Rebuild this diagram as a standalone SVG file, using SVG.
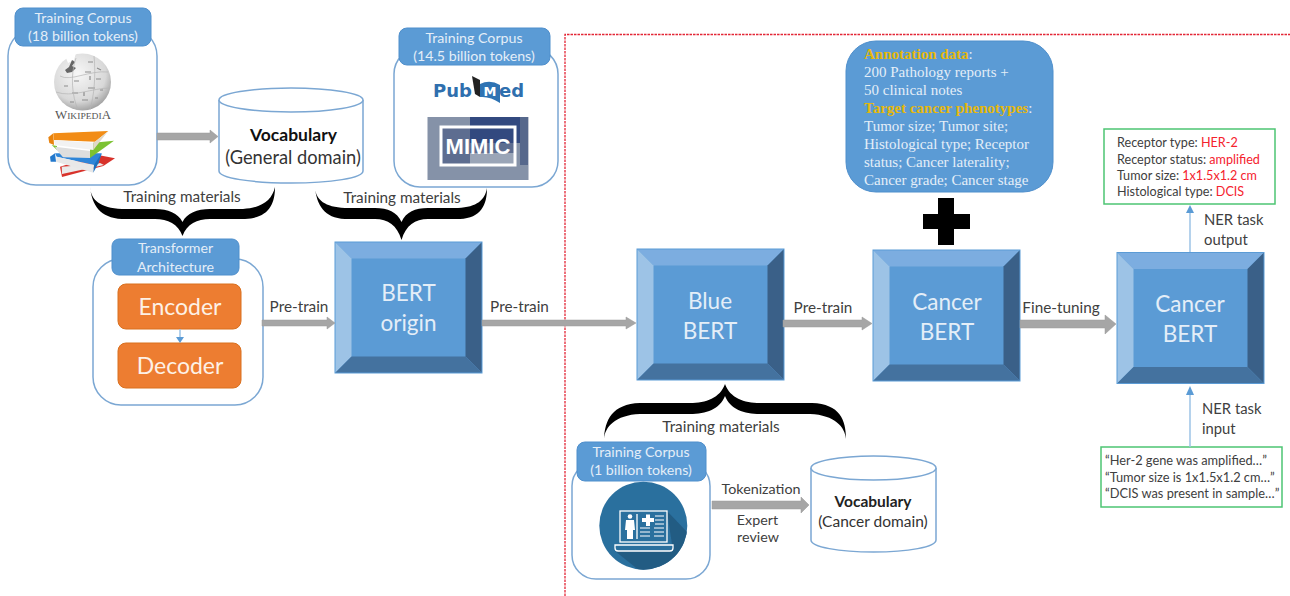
<svg xmlns="http://www.w3.org/2000/svg" width="1290" height="596" viewBox="0 0 1290 596">
<style>
text{font-family:Lato,"Open Sans",sans-serif;fill:#404040}
.m{text-anchor:middle}
.card{fill:#fff;stroke:#7ba7d3;stroke-width:1.5}
.head{fill:#5b9bd5;stroke:#4f8fcc;stroke-width:1}
.ht{font-size:14.200px;fill:#e4eef8;text-anchor:middle}
.orange{fill:#ed7d31;stroke:#d9701f;stroke-width:1}
.ot{font-size:23px;fill:#fdf1e6;text-anchor:middle}
.bt{font-size:22.500px;fill:#e4eef8;text-anchor:middle}
.lab{font-size:15.300px;fill:#404040;text-anchor:middle}
.sm{font-size:14.300px}
.arrow{fill:#a6a6a6;stroke:#999;stroke-width:.5}
.thin{stroke:#9dc3e6;stroke-width:1.5;fill:none}
.tip{fill:#5b9bd5}
.brace{fill:#000}
.cyl{fill:#fff;stroke:#7ba7d3;stroke-width:1.5}
.green{fill:#fff;stroke:#4dc573;stroke-width:1.5}
.gt{font-size:12.600px;fill:#404040}
.st{font-family:"Liberation Serif",serif;font-size:15px;fill:#e4eef8}
.gold{font-weight:bold;fill:#e6b80c}
.w{stroke:#fff;stroke-width:1.3;fill:none}
.pm{font-family:"DejaVu Sans",sans-serif;font-weight:bold;font-size:18px;fill:#2f6fae}
</style>
<defs>
<g id="bevel">
<rect width="147" height="131" fill="#5b9bd5"/>
<polygon points="0,0 147,0 130.500,16.500 16.500,16.500" fill="#7cade0"/>
<polygon points="0,0 16.500,16.500 16.500,114.500 0,131" fill="#9dc3e6"/>
<polygon points="147,0 130.500,16.500 130.500,114.500 147,131" fill="#3a6088"/>
<polygon points="0,131 16.500,114.500 130.500,114.500 147,131" fill="#44729f"/>
<rect width="147" height="131" fill="none" stroke="#5b9bd5"/>
</g>
<radialGradient id="globe" cx=".42" cy=".35" r=".75"><stop offset="0" stop-color="#f7f7f7"/><stop offset=".65" stop-color="#d8d8d8"/><stop offset="1" stop-color="#8a8a8a"/></radialGradient>
<clipPath id="cc"><circle cx="643.300" cy="525.700" r="44"/></clipPath>
<filter id="soft" x="-5%" y="-5%" width="110%" height="110%"><feGaussianBlur stdDeviation=".5"/></filter>
</defs>

<path d="M565,596V34.500H1290" fill="none" stroke="#e32636" stroke-width="1.300" stroke-dasharray="2.500 1"/>

<g id="corpus-general">
<rect class="card" x="8" y="28" width="149" height="157" rx="28"/>
<rect class="head" x="15" y="8" width="136" height="38" rx="8"/>
<text class="ht"><tspan x="83" y="23">Training Corpus</tspan><tspan x="83" y="41">(18 billion tokens)</tspan></text>
<g filter="url(#soft)">
<circle cx="82.500" cy="82" r="28.500" fill="url(#globe)"/>
<path d="M66,58 L76,53 74,60 68,63Z" fill="#fff"/>
<path d="M72,60 L75,62 72,66 76,68 72,72 67,73 65,70 69,67Z" fill="#666"/>
<path d="M88,62h5M97,68l4,2M85,72h6M96,79h5M64,86h4M74,81h5M88,88h7M72,93h6M100,90h3M82,100h6M95,98h3M70,102h4M90,76v4M84,92v4" stroke="#8c8c8c" stroke-width="1.200" fill="none"/>
<path d="M60,76 C70,82 90,70 108,72M56,92 C72,98 92,88 110,88M76,58 C70,75 72,96 78,110M94,56 C96,75 94,96 90,110" stroke="#b4b4b4" stroke-width=".7" fill="none"/>
<polygon points="98,155 115,158.300 103.300,166 62,177 60,166.700" fill="#d8322c"/>
<polygon points="61.700,166.700 96.700,164 100,163 104,165 62,174" fill="#eaeaea"/>
<polygon points="50,156.700 55,153.300 56,161.700 50.700,161.700" fill="#2478cc"/>
<polygon points="55,153.300 101.700,153.300 98.300,163.300 94,165 56.700,156.700" fill="#2f85d8"/>
<polygon points="56.700,156.700 94,165 93.300,172.700 56,161.700" fill="#e8e8e8"/>
<polygon points="101.700,153.300 94,165 93.300,172.700 98.300,163.300" fill="#1f6fbd"/>
<polygon points="51.700,145 57,146 57,150" fill="#7cc232"/>
<polygon points="55,146.700 90,151 90,158 63,157.300 56.700,150" fill="#dedede"/>
<polygon points="93.300,142.700 114,140.700 90,158 90,150" fill="#7cc232"/>
<polygon points="48.300,137.300 53.300,133.300 54,145 49.300,143" fill="#e8830f"/>
<polygon points="53.300,133.300 108.300,131 95,141.700 54,140" fill="#f28c12"/>
<polygon points="54,140 93.300,142.700 93.300,150 55,145" fill="#f2f2f2"/>
<polygon points="108.300,131 95,141.700 93.300,142.700 93.300,150 98,144" fill="#e0d8c8"/>
</g>
<text x="55" y="119" textLength="56" lengthAdjust="spacingAndGlyphs" style="font-family:'Liberation Serif',serif;fill:#555"><tspan font-size="11.500">W</tspan><tspan font-size="8.500">IKIPEDI</tspan><tspan font-size="11.500">A</tspan></text>
</g>

<g id="vocab-general">
<path class="cyl" d="M219,100V171C219,178 251,183 291,183S363,178 363,171V100"/>
<ellipse class="cyl" cx="291" cy="100" rx="72" ry="12"/>
<text class="m" x="293.500" y="141" font-size="17.500" font-weight="bold" style="fill:#111">Vocabulary</text>
<text class="m" x="293" y="164" font-size="18.300" style="fill:#333">(General domain)</text>
</g>

<g id="corpus-biomedical">
<rect class="card" x="394" y="48" width="164" height="139" rx="26"/>
<rect class="head" x="399" y="28" width="151" height="37" rx="8"/>
<text class="ht"><tspan x="474" y="43">Training Corpus</tspan><tspan x="474" y="61">(14.5 billion tokens)</tspan></text>
<g filter="url(#soft)">
<rect x="427.500" y="117" width="101" height="63" fill="#8592a8"/>
<rect x="470" y="117" width="50" height="26" fill="#30497f"/>
<rect x="441" y="127" width="74" height="38" fill="#5d6d90"/>
<rect x="470" y="127" width="45" height="16" fill="#30497f"/>
<rect x="520" y="117" width="8" height="48" fill="#56678c"/>
<rect x="470" y="153" width="45" height="12" fill="#9aa5b7"/>
<rect x="441" y="127" width="74" height="38" fill="none" stroke="#fff" stroke-width="3"/>
<path d="M472,76 L480,80 480,97 475,94Z" fill="#222"/>
<path d="M480,84 Q490,79 500,85 V103 Q490,96 480,97Z" fill="#2f73b3"/>
</g>
<text class="pm" x="433" y="97">Pub</text>
<text class="m" x="490" y="96" font-size="13" font-weight="bold" style="fill:#fff;font-family:'DejaVu Sans',sans-serif">M</text>
<text class="pm" x="499" y="97">ed</text>
<text class="m" x="478" y="154" font-size="22" font-weight="bold" style="fill:#fff;font-family:'Liberation Sans',sans-serif">MIMIC</text>
</g>

<g id="transformer">
<rect class="card" x="93" y="259" width="170" height="146" rx="28"/>
<rect class="head" x="112" y="239" width="127" height="36" rx="7"/>
<text class="ht"><tspan x="175.500" y="253">Transformer</tspan><tspan x="175.500" y="272">Architecture</tspan></text>
<rect class="orange" x="118" y="284" width="123" height="45" rx="8"/>
<text class="ot" x="180" y="315">Encoder</text>
<rect class="orange" x="118" y="343" width="123" height="45" rx="8"/>
<text class="ot" x="180" y="374">Decoder</text>
<path class="thin" d="M180,329V338"/><polygon class="tip" points="176,337 184,337 180,343"/>
</g>

<g id="bert-origin"><use href="#bevel" x="335" y="242"/><text class="bt"><tspan x="408.500" y="301">BERT</tspan><tspan x="408.500" y="331">origin</tspan></text></g>
<g id="blue-bert"><use href="#bevel" x="637" y="249"/><text class="bt"><tspan x="710" y="309">Blue</tspan><tspan x="710" y="339">BERT</tspan></text></g>
<g id="cancer-bert-1"><use href="#bevel" x="873" y="250"/><text class="bt"><tspan x="947" y="310">Cancer</tspan><tspan x="947" y="340">BERT</tspan></text></g>
<g id="cancer-bert-2"><use href="#bevel" x="1117" y="252.500"/><text class="bt"><tspan x="1190" y="312">Cancer</tspan><tspan x="1190" y="342">BERT</tspan></text></g>

<g id="annotation">
<rect x="846" y="41" width="207" height="151" rx="30" fill="#5b9bd5" stroke="#4f8fcc"/>
<text class="st"><tspan x="864" y="58.500" class="gold">Annotation data</tspan><tspan>:</tspan><tspan x="864" y="76.500">200 Pathology reports +</tspan><tspan x="864" y="94.500">50 clinical notes</tspan><tspan x="864" y="112.500" class="gold">Target cancer phenotypes</tspan><tspan>:</tspan><tspan x="864" y="130.500">Tumor size; Tumor site;</tspan><tspan x="864" y="148.500">Histological type; Receptor</tspan><tspan x="864" y="166.500">status; Cancer laterality;</tspan><tspan x="864" y="184.500">Cancer grade; Cancer stage</tspan></text>
</g>
<g id="plus"><path d="M938,198H954V214H970V229H954V245H938V229H923V214H938Z" fill="#000"/></g>

<g id="ner-output">
<rect class="green" x="1104" y="129" width="171" height="75"/>
<text class="gt"><tspan x="1117" y="147">Receptor type: </tspan><tspan style="fill:#f5222d">HER-2</tspan><tspan x="1117" y="163.500">Receptor status: </tspan><tspan style="fill:#f5222d">amplified</tspan><tspan x="1117" y="180">Tumor size: </tspan><tspan style="fill:#f5222d">1x1.5x1.2 cm</tspan><tspan x="1117" y="196">Histological type: </tspan><tspan style="fill:#f5222d">DCIS</tspan></text>
</g>
<g id="ner-input">
<rect class="green" x="1101" y="447" width="181" height="60"/>
<text class="gt" style="font-size:12.800px"><tspan x="1105" y="465">“Her-2 gene was amplified…”</tspan><tspan x="1105" y="481.500">“Tumor size is 1x1.5x1.2 cm…”</tspan><tspan x="1105" y="498">“DCIS was present in sample…”</tspan></text>
</g>

<g id="corpus-cancer">
<rect class="card" x="572" y="462" width="138" height="117" rx="24"/>
<rect class="head" x="577" y="442" width="129" height="39" rx="8"/>
<text class="ht"><tspan x="641" y="457">Training Corpus</tspan><tspan x="641" y="475">(1 billion tokens)</tspan></text>
<g filter="url(#soft)">
<circle cx="643.300" cy="525.700" r="44" fill="#2a6f9e"/>
<polygon points="667,511 690,535 680,570 645,575 615,551 673,551" fill="#245b83" clip-path="url(#cc)"/>
<rect x="620" y="511" width="47" height="31" fill="none" class="w"/>
<path class="w" d="M615,545H673V548Q673,551 670,551H618Q615,551 615,548ZM637,514V539"/>
<circle cx="630" cy="516.500" r="2.300" fill="#fff"/>
<path d="M626,520H634L635,530H633V539H627V530H625Z" fill="#fff"/>
<path d="M642,518H646V514.500H650V518H654V522H650V526H646V522H642Z" fill="#fff"/>
<path d="M640,528H650M640,532H650M640,536H650M655,516H664M655,520H664M655,524H664M654,528H664M654,532H664M654,536H664" stroke="#fff" stroke-width="1"/>
</g>
</g>

<g id="vocab-cancer">
<path class="cyl" d="M811,468V540C811,547 839,552 873.500,552S936,547 936,540V468"/>
<ellipse class="cyl" cx="873.500" cy="468" rx="62.500" ry="12"/>
<text class="m" x="873" y="507" font-size="15.500" font-weight="bold" style="fill:#222">Vocabulary</text>
<text class="m" x="873" y="527" font-size="15.500" style="fill:#333">(Cancer domain)</text>
</g>

<g id="connectors">
<path class="arrow" d="M157,133H210V130L218,136.500 210,143V140H157Z"/>
<path class="arrow" d="M262,320H327V317L335,323 327,329V326H262Z"/>
<path class="arrow" d="M482,320H626V317L636,323 626,329V326H482Z"/>
<path class="arrow" d="M783,320H862V317L872,323.500 862,330V327H783Z"/>
<path class="arrow" d="M1020,320H1105V315L1116,324 1105,334V328H1020Z"/>
<path class="arrow" d="M712,501H801V497L809,505 801,513V509H712Z"/>
<path class="thin" d="M1190,252V212"/><polygon class="tip" points="1186,213 1194,213 1190,205"/>
<path class="thin" d="M1190,447V394"/><polygon class="tip" points="1186,395 1194,395 1190,386"/>
<path class="brace" d="M90,187C91,200 100,208 122,209H155C168,209 178,213 182.500,222C187,213 197,209 210,209H243C262,208 272,200 275,187C275,205 268,218 245,219H210C197,219 187,224 182.500,236C178,224 168,219 155,219H122C100,218 92,205 90,187Z"/>
<path class="brace" d="M315,188C316,200 325,207 345,208H375C388,208 397,212 401.500,222C406,212 415,208 428,208H458C477,207 485,200 487,188C487,205 481,218 460,219H428C415,219 406,225 401.500,240C397,225 388,219 375,219H345C324,218 317,205 315,188Z"/>
<path class="brace" d="M604,439C605,427 615,415 640,414H690C706,414 720,409 725,396C730,409 744,414 760,414H810C835,415 845,427 846,439C846,420 840,404 812,403H760C744,403 730,398 725,384C720,398 706,403 690,403H640C612,404 605,420 604,439Z"/>
<text class="lab" x="182" y="202">Training materials</text>
<text class="lab" x="402" y="203">Training materials</text>
<text class="lab" x="721" y="432">Training materials</text>
<text class="lab" x="299" y="312">Pre-train</text>
<text class="lab" x="519.500" y="312">Pre-train</text>
<text class="lab" x="823" y="313">Pre-train</text>
<text class="lab" x="1061" y="313">Fine-tuning</text>
<text class="lab sm" x="761" y="494">Tokenization</text>
<text class="lab sm" x="757.500" y="525">Expert</text>
<text class="lab sm" x="758" y="542">review</text>
<text class="lab" style="text-anchor:start;font-size:14.800px"><tspan x="1204" y="225">NER task</tspan><tspan x="1204" y="245">output</tspan></text>
<text class="lab" style="text-anchor:start;font-size:14.800px"><tspan x="1202" y="414">NER task</tspan><tspan x="1202" y="434">input</tspan></text>
</g>
</svg>
